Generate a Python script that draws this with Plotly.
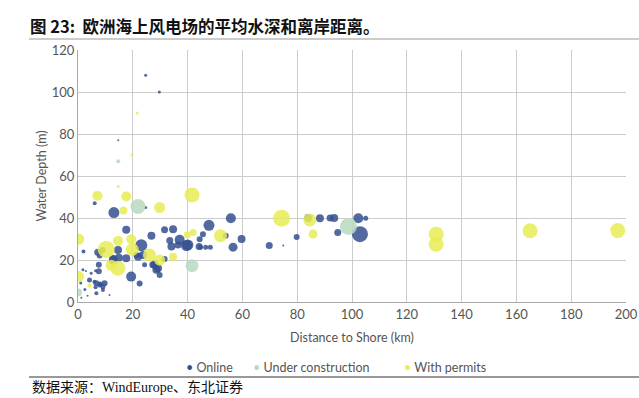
import plotly.graph_objects as go

# ---- data (distance to shore km, water depth m, bubble size) ----
online_x = [24.7, 29.7, 14.7, 6.1, 24.7, 13.1, 17.6, 26.8, 31.6, 34.7, 23.1, 37.1, 34.1, 33.5,
            40.1, 36.5, 44.4, 45.6, 47.8, 44.2, 44.7, 46.6, 48.3, 55.8, 53.9, 59.7, 56.6, 69.8,
            74.9, 79.8, 84.0, 88.3, 92.0, 93.5, 94.8, 102.3, 105.0, 102.9, 21.3, 23.7, 21.9,
            24.3, 27.3, 28.0, 28.6, 29.2, 29.8, 31.6, 19.4, 22.5, 14.6, 14.9, 12.7, 12.9, 17.6,
            9.0, 7.2, 7.9, 2.0, 7.6, 7.6, 4.2, 6.0, 6.7, 8.1, 9.7, 7.9, 9.1, 6.4, 1.8, 2.9, 4.8,
            6.4, 1.0, 2.5, 9.1, 6.7, 3.5, 1.2, 11.5, 39.6]
online_y = [108, 100, 77, 47, 45, 42.6, 34.4, 31.5, 34.4, 34.7, 27.0, 29.6, 26.4, 29.3,
            27.2, 27.2, 29.9, 32.3, 36.5, 26.4, 26.1, 26.1, 26.1, 39.9, 31.6, 30.0, 26.1, 26.9,
            26.9, 30.9, 40.0, 39.9, 40.0, 40.0, 33.1, 39.9, 39.9, 32.3, 22.4, 22.4, 21.6,
            17.7, 17.7, 17.7, 15.3, 16.1, 12.9, 20.5, 12.1, 8.8, 24.8, 21.1, 20.8, 20.0, 20.8,
            24.8, 23.7, 22.1, 24.0, 17.7, 14.7, 10.5, 9.7, 8.9, 8.6, 8.9, 8.1, 7.3, 7.0, 15.3, 14.8, 13.7,
            14.9, 9.0, 6.0, 5.7, 4.2, 3.0, 2.0, 3.3, 26.9]
online_s = [3, 3, 2, 4, 3, 11, 8, 8, 7, 8, 12, 10, 8, 7,
            11, 7, 6, 6, 11, 7, 5, 5, 5, 10, 6, 8, 9, 7,
            2, 6, 8, 8, 7, 8, 7, 10, 5, 16, 6, 8, 8,
            5, 7, 8, 8, 8, 6, 6, 10, 6, 8, 8, 7, 9, 8,
            6, 7, 6, 4, 6, 6, 5, 4, 6, 5, 6, 5, 5, 4, 3, 2, 3,
            3, 3, 3, 4, 4, 2, 2, 2, 11]

uc_x = [14.7, 21.9, 41.6, 98.7, 0.0]
uc_y = [67, 45.5, 17.3, 35.9, 4.5]
uc_s = [4, 15, 13, 17, 8]

wp_x = [21.6, 19.7, 14.7, 7.1, 17.6, 16.6, 29.8, 41.6, 0.3, 10.3, 14.6, 19.4, 19.8, 12.1,
        14.6, 0.2, 4.2, 26.1, 29.8, 34.7, 39.9, 42.0, 52.0, 74.3, 84.6, 85.8, 130.7, 130.7,
        165.0, 197.0]
wp_y = [90, 70, 55, 50.6, 50.2, 43.6, 45.0, 51.0, 29.9, 25.0, 29.1, 29.9, 25.0, 17.5,
        16.1, 12.1, 7.8, 22.4, 20.0, 21.6, 32.0, 33.1, 31.6, 39.9, 39.1, 32.4, 32.3, 27.5,
        33.9, 34.0]
wp_s = [3, 3, 3, 10, 10, 8, 11, 15, 11, 17, 10, 10, 13, 11,
        15, 11, 4, 13, 11, 8, 7, 7, 13, 17, 13, 9, 15, 15,
        15, 15]

series_names = ["Online", "Under construction", "With permits"]
x_ticks = [0, 20, 40, 60, 80, 100, 120, 140, 160, 180, 200]
y_ticks = [0, 20, 40, 60, 80, 100, 120]

colors = ["#34508e", "#b8d9c1", "#e8ec55"]
legend_left_px = [184, 251, 402]

# the page body margin is removed by post_script, so screen pixels == figure pixels
W, H = 639, 398
L, R, T, B = 78, 13, 50, 96
pw, ph = W - L - R, H - T - B


def px_to_paper_x(screen_px):
    return (screen_px - L) / pw


def px_to_paper_y(screen_py):
    return (H - B - screen_py) / ph


fig = go.Figure()
for name, xs, ys, ss, col in zip(series_names,
                                  [online_x, uc_x, wp_x],
                                  [online_y, uc_y, wp_y],
                                  [online_s, uc_s, wp_s], colors):
    fig.add_trace(go.Scatter(
        x=xs, y=ys, mode="markers", name=name, showlegend=False,
        marker=dict(size=ss, sizemode="diameter", color=col, opacity=0.85,
                    line=dict(width=0)),
        hoverinfo="x+y+name"))

# legend drawn as text items: small coloured dot followed by the series name
for name, col, lx in zip(series_names, colors, legend_left_px):
    fig.add_annotation(
        text=f"<span style='color:{col}'>•</span> {name}",
        xref="paper", yref="paper", x=px_to_paper_x(lx), y=px_to_paper_y(367),
        xanchor="left", yanchor="middle", showarrow=False,
        font=dict(size=12.5, color="#555555"))

fig.update_layout(
    width=W, height=H,
    margin=dict(l=L, r=R, t=T, b=B, autoexpand=False),
    paper_bgcolor="white", plot_bgcolor="white",
    font=dict(family="Lato, 'Open Sans', sans-serif", color="#555555", size=13),
    showlegend=False,
    title=dict(text="<b>图 23:  欧洲海上风电场的平均水深和离岸距离。</b>",
               x=30 / W, xanchor="left", xref="container",
               y=1 - 27.5 / H, yanchor="middle", yref="container",
               font=dict(family="'Noto Sans CJK SC', sans-serif", size=16.5, color="#111111")),
)

fig.update_xaxes(range=[0, 200], tickvals=x_ticks, showgrid=True, gridcolor="#cccccc", gridwidth=1,
                 showline=True, linecolor="#aaaaaa", linewidth=1, zeroline=False, automargin=False,
                 ticks="", tickfont=dict(size=13, color="#555555"),
                 title=dict(text="Distance to Shore (km)", font=dict(size=12.5, color="#555555"),
                            standoff=12))
fig.update_yaxes(range=[0, 120], tickvals=y_ticks, showgrid=True, gridcolor="#cccccc", gridwidth=1,
                 showline=True, linecolor="#aaaaaa", linewidth=1, zeroline=False, automargin=False,
                 ticks="", tickfont=dict(size=13, color="#555555"),
                 title=dict(text="Water Depth (m)", font=dict(size=12.5, color="#555555"),
                            standoff=2))

# rules under title and above source
fig.add_shape(type="line", xref="paper", yref="paper",
              x0=px_to_paper_x(29), x1=px_to_paper_x(639),
              y0=px_to_paper_y(39), y1=px_to_paper_y(39),
              line=dict(color="#999999", width=1))
fig.add_shape(type="line", xref="paper", yref="paper",
              x0=px_to_paper_x(29), x1=px_to_paper_x(639),
              y0=px_to_paper_y(377), y1=px_to_paper_y(377),
              line=dict(color="#333333", width=1))

fig.add_annotation(text="数据来源：WindEurope、东北证券", xref="paper", yref="paper",
                   x=px_to_paper_x(30), y=px_to_paper_y(387), xanchor="left", yanchor="middle",
                   showarrow=False,
                   font=dict(family="'Liberation Serif', 'Noto Sans CJK SC', serif", size=14,
                             color="#111111"))

fig.write_html("out.html", config={"displayModeBar": False},
               post_script="document.body.style.margin='0';document.body.style.overflow='hidden';")
